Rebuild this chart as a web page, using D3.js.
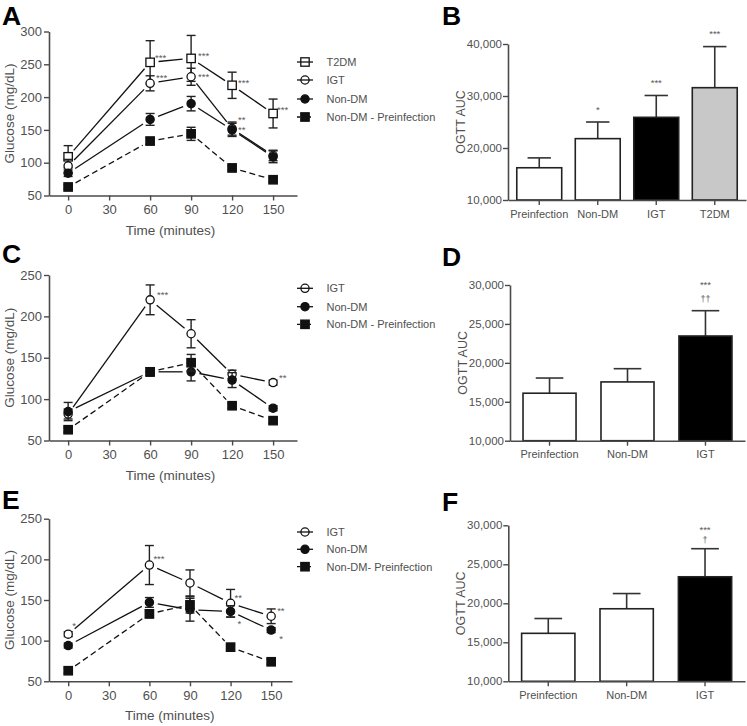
<!DOCTYPE html>
<html><head><meta charset="utf-8">
<script src="https://cdn.jsdelivr.net/npm/d3@7"></script>
<style>
body{margin:0;background:#fff}
svg{display:block}
text{font-family:"Liberation Sans",Arial,Helvetica,sans-serif}
</style>
</head><body>
<svg id="c" width="747" height="726"></svg>
<script>
// ---------- DATA ----------
const times = [0, 60, 90, 120, 150];
const timeTicks = [0, 30, 60, 90, 120, 150];

// Panel A
const aT2DM = [109, 253, 259, 218, 175];
const aT2DMErr = [17, 33, 35, 20, 22];
const aIGT = [95, 221, 231, 152, 111];
const aIGTErr = [10, 11.5, 13, 10, 8];
const aNonDM = [84, 166, 190, 150, 109];
const aNonDMErr = [5, 9, 11, 10, 9];
const prePre = [63, 133, 144, 92, 74];
const prePreErr = [3, 5, 10, 3, 3];
const aYTicks = [50, 100, 150, 200, 250, 300];

// Panel C
const cIGT = [82, 220, 179, 130, 120];
const cIGTErr = [6, 18, 17, 5, 3];
const cNonDM = [85, 133, 133, 123, 89];
const cNonDMErr = [11, 5, 11, 9, 3];
const ceYTicks = [50, 100, 150, 200, 250];

// Panel E
const eIGT = [108, 193, 171, 146, 130];
const eIGTErr = [3, 24, 16, 17, 9];
const eNonDM = [94, 147, 138, 136, 113];
const eNonDMErr = [3, 6, 14, 7, 3];

// Bar panels
const bCats = ["Preinfection", "Non-DM", "IGT", "T2DM"];
const bVals = [16200, 21800, 25900, 31600];
const bErrs = [1900, 3200, 4200, 7900];
const bStars = [[], ["*"], ["***"], ["***"]];
const bYTicks = [10000, 20000, 30000, 40000];

const dCats = ["Preinfection", "Non-DM", "IGT"];
const dVals = [16100, 17550, 23450];
const dErrs = [1950, 1700, 3250];
const dStars = [[], [], ["††", "***"]];

const fCats = ["Preinfection", "Non-DM", "IGT"];
const fVals = [16150, 19300, 23400];
const fErrs = [1900, 1950, 3600];
const fStars = [[], [], ["†", "***"]];
const dfYTicks = [10000, 15000, 20000, 25000, 30000];

// significance marks on line panels: [seriesKey, timeIndex, label, dx, dy]
const aMarks = [["T2DM",1,"***",5,-7],["T2DM",2,"***",7,-5],["IGT",1,"***",6,-8],["IGT",2,"***",7,-2],
                ["T2DM",3,"***",6,-5],["T2DM",4,"***",4,-6],["IGT",3,"**",6,-11.5],["NonDM",3,"**",6,-2]];
const cMarks = [["IGT",1,"***",7,-7],["IGT",4,"**",6,-7]];
const eMarks = [["IGT",0,"*",4,-11],["IGT",1,"***",4,-9],["IGT",3,"**",4,-8],["NonDM",3,"*",7,10],
                ["IGT",4,"**",6,-8],["NonDM",4,"*",8,6]];

// ---------- DRAWING ----------
const svg = d3.select("#c");
const AX = "#4a4a4a", TXT = "#505050", INK = "#111", STAR = "#5a5a5a";

function styleAxis(g, fs) {
  g.selectAll("path.domain").attr("stroke", AX).attr("stroke-width", 1.6);
  g.selectAll(".tick line").attr("stroke", AX).attr("stroke-width", 1.4);
  g.selectAll(".tick text").attr("fill", TXT).attr("font-size", fs)
    .attr("font-family", '"Liberation Sans",Arial,sans-serif');
}

function panelLetter(t, x, y) {
  svg.append("text").attr("x", x).attr("y", y).attr("font-size", 26.5).attr("font-weight", "bold")
    .attr("fill", "#000").text(t);
}

function marker(g, type, x, y, legend) {
  if (type === "sqOpen" || type === "sqFill") {
    g.append("rect").attr("x", x - 4.2).attr("y", y - 4.2).attr("width", 8.4).attr("height", 8.4)
      .attr("fill", type === "sqFill" ? INK : (legend ? "none" : "#fff"))
      .attr("stroke", INK).attr("stroke-width", 1.3);
  } else {
    g.append("circle").attr("cx", x).attr("cy", y).attr("r", 4.1)
      .attr("fill", type === "circFill" ? INK : (legend ? "none" : "#fff"))
      .attr("stroke", INK).attr("stroke-width", 1.3);
  }
}

function linePanel(cfg) {
  const x = d3.scaleLinear().domain(cfg.xDom).range([cfg.left, cfg.right]);
  const y = d3.scaleLinear().domain(cfg.yDom).range([cfg.bottom, cfg.top]);
  const g = svg.append("g");

  const xa = g.append("g").attr("transform", `translate(0,${cfg.bottom})`)
    .call(d3.axisBottom(x).tickValues(timeTicks).tickSize(5).tickSizeOuter(0).tickPadding(4));
  styleAxis(xa, 13);
  const ya = g.append("g").attr("transform", `translate(${cfg.left},0)`)
    .call(d3.axisLeft(y).tickValues(cfg.yTicks).tickSize(5).tickSizeOuter(0).tickPadding(2));
  styleAxis(ya, 13);

  g.append("text").attr("x", x(75)).attr("y", cfg.bottom + 39).attr("text-anchor", "middle")
    .attr("font-size", 13.5).attr("fill", TXT).text("Time (minutes)");
  g.append("text").attr("transform", `translate(${cfg.left - 35},${(cfg.top + cfg.bottom) / 2}) rotate(-90)`)
    .attr("text-anchor", "middle").attr("font-size", 13.5).attr("fill", TXT).text("Glucose (mg/dL)");

  const gap = 8.5;
  cfg.series.forEach(s => {
    for (let i = 0; i < times.length - 1; i++) {
      const x1 = x(times[i]), y1 = y(s.v[i]), x2 = x(times[i + 1]), y2 = y(s.v[i + 1]);
      const L = Math.hypot(x2 - x1, y2 - y1), ux = (x2 - x1) / L, uy = (y2 - y1) / L;
      g.append("line").attr("x1", x1 + ux * gap).attr("y1", y1 + uy * gap)
        .attr("x2", x2 - ux * gap).attr("y2", y2 - uy * gap)
        .attr("stroke", INK).attr("stroke-width", 1.3)
        .attr("stroke-dasharray", s.dash ? "6,3.5" : null);
    }
  });
  cfg.series.forEach(s => {
    times.forEach((t, i) => {
      const cx = x(t), lo = y(s.v[i] - s.e[i]), hi = y(s.v[i] + s.e[i]);
      g.append("line").attr("x1", cx).attr("x2", cx).attr("y1", lo).attr("y2", hi)
        .attr("stroke", "#222").attr("stroke-width", 1.4);
      [lo, hi].forEach(yy => g.append("line").attr("x1", cx - 4.5).attr("x2", cx + 4.5)
        .attr("y1", yy).attr("y2", yy).attr("stroke", "#222").attr("stroke-width", 1.4));
    });
    times.forEach((t, i) => marker(g, s.m, x(t), y(s.v[i]), false));
  });
  const byKey = {};
  cfg.series.forEach(s => byKey[s.key] = s);
  cfg.marks.forEach(([k, i, lab, dx, dy]) => {
    const s = byKey[k];
    g.append("text").attr("x", x(times[i]) + dx).attr("y", y(s.v[i]) + dy + 5.5)
      .attr("font-size", 9.5).attr("fill", STAR).text(lab);
  });
  cfg.legend.forEach((s, j) => {
    const ly = cfg.legY[j];
    g.append("line").attr("x1", 297).attr("x2", 313).attr("y1", ly).attr("y2", ly)
      .attr("stroke", INK).attr("stroke-width", 1.3).attr("stroke-dasharray", s.dash ? "3,2.5" : null);
    marker(g, s.m, 305, ly, true);
    g.append("text").attr("x", 326.5).attr("y", ly + 4).attr("font-size", 11).attr("fill", TXT).text(s.name);
  });
}

function barPanel(cfg) {
  const x = d3.scaleBand().domain(cfg.cats).range([cfg.left, cfg.right])
    .paddingInner(cfg.pi).paddingOuter(cfg.po);
  const y = d3.scaleLinear().domain(cfg.yDom).range([cfg.bottom, cfg.top]);
  const g = svg.append("g");

  cfg.cats.forEach((c, i) => {
    const bx = x(c), bw = x.bandwidth(), cx = bx + bw / 2;
    const top = y(cfg.vals[i]), et = y(cfg.vals[i] + cfg.errs[i]);
    g.append("line").attr("x1", cx).attr("x2", cx).attr("y1", top).attr("y2", et)
      .attr("stroke", "#333").attr("stroke-width", 1.6);
    g.append("line").attr("x1", cx - bw * 0.26).attr("x2", cx + bw * 0.26).attr("y1", et).attr("y2", et)
      .attr("stroke", "#333").attr("stroke-width", 1.6);
    g.append("rect").attr("x", bx).attr("y", top).attr("width", bw).attr("height", cfg.bottom - top)
      .attr("fill", cfg.fills[i]).attr("stroke", "#222").attr("stroke-width", 1.6);
    cfg.stars[i].forEach((lab, j) => {
      const off = cfg.starOff[j];
      const isDag = lab.indexOf("†") >= 0;
      g.append("text").attr("x", cx).attr("y", et - off + (isDag ? 3 : 5.5))
        .attr("text-anchor", "middle").attr("font-size", isDag ? 9 : 9.5).attr("fill", STAR).text(lab);
    });
  });

  const xa = g.append("g").attr("transform", `translate(0,${cfg.bottom})`)
    .call(d3.axisBottom(x).tickSize(5).tickSizeOuter(0).tickPadding(5));
  styleAxis(xa, 11);
  const ya = g.append("g").attr("transform", `translate(${cfg.left},0)`)
    .call(d3.axisLeft(y).tickValues(cfg.yTicks).tickFormat(d3.format(",")).tickSize(5).tickSizeOuter(0).tickPadding(1));
  styleAxis(ya, 11.5);
  g.append("text").attr("transform", `translate(${cfg.left - 43},${(cfg.top + cfg.bottom) / 2}) rotate(-90)`)
    .attr("text-anchor", "middle").attr("font-size", 12.5).attr("fill", TXT).text("OGTT AUC");
}

// ---------- PANELS ----------
const sT2DM = (v, e) => ({key: "T2DM", name: "T2DM", v, e, m: "sqOpen", dash: false});
const sIGT = (v, e) => ({key: "IGT", name: "IGT", v, e, m: "circOpen", dash: false});
const sNon = (v, e) => ({key: "NonDM", name: "Non-DM", v, e, m: "circFill", dash: false});
const sPre = (v, e, nm) => ({key: "Pre", name: nm, v, e, m: "sqFill", dash: true});

panelLetter("A", 2, 24.5);
const aSeries = [sT2DM(aT2DM, aT2DMErr), sIGT(aIGT, aIGTErr), sNon(aNonDM, aNonDMErr), sPre(prePre, prePreErr, "Non-DM - Preinfection")];
linePanel({left: 49, right: 297, xDom: [-14, 167.5], top: 31.5, bottom: 195.5, yDom: [50, 300], yTicks: aYTicks,
  series: aSeries, marks: aMarks, legend: aSeries, legY: [62, 80, 99, 117]});

panelLetter("C", 2, 263);
const cSeries = [sIGT(cIGT, cIGTErr), sNon(cNonDM, cNonDMErr), sPre(prePre, prePreErr, "Non-DM - Preinfection")];
linePanel({left: 49, right: 297, xDom: [-14, 167.5], top: 275, bottom: 440.5, yDom: [50, 250], yTicks: ceYTicks,
  series: cSeries, marks: cMarks, legend: cSeries, legY: [288.3, 306.7, 324.3]});

panelLetter("E", 2, 509);
const eSeries = [sIGT(eIGT, eIGTErr), sNon(eNonDM, eNonDMErr), sPre(prePre, prePreErr, "Non-DM- Preinfection")];
linePanel({left: 49, right: 292, xDom: [-14.2, 165.4], top: 518.7, bottom: 681.3, yDom: [50, 250], yTicks: ceYTicks,
  series: eSeries, marks: eMarks, legend: eSeries, legY: [532, 549.3, 566.7]});

panelLetter("B", 442, 25);
barPanel({cats: bCats, vals: bVals, errs: bErrs, stars: bStars, starOff: [15, 31], fills: ["#fff", "#fff", "#000", "#c8c8c8"],
  left: 508, right: 746, pi: 0.232, po: 0.15, top: 44, bottom: 200, yDom: [10000, 40000], yTicks: bYTicks});

panelLetter("D", 442, 266);
barPanel({cats: dCats, vals: dVals, errs: dErrs, stars: dStars, starOff: [12, 28], fills: ["#fff", "#fff", "#000"],
  left: 510, right: 745, pi: 0.32, po: 0.167, top: 285, bottom: 440.7, yDom: [10000, 30000], yTicks: dfYTicks});

panelLetter("F", 442, 511);
barPanel({cats: fCats, vals: fVals, errs: fErrs, stars: fStars, starOff: [9, 21], fills: ["#fff", "#fff", "#000"],
  left: 508.3, right: 745, pi: 0.32, po: 0.17, top: 525.3, bottom: 681.3, yDom: [10000, 30000], yTicks: dfYTicks});
</script>
</body></html>
